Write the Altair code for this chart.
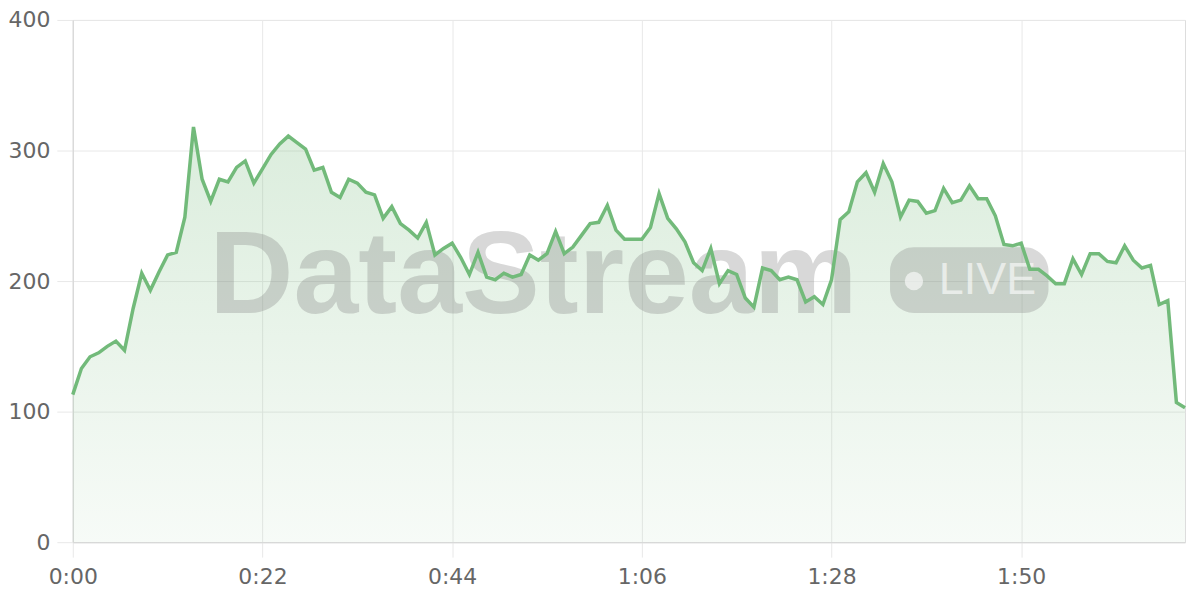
import altair as alt
import pandas as pd

# seconds since start
seconds = list(range(130))
values = [
    113, 133, 142, 145, 150, 154, 147, 179, 206, 193,
    207, 220, 222, 249, 318, 278, 261, 278, 276, 287,
    292, 275, 286, 297, 305, 311, 306, 301, 285, 287,
    268, 264, 278, 275, 268, 266, 248, 257, 244, 239,
    233, 245, 220, 225, 229, 218, 205, 222, 203, 201,
    206, 203, 205, 220, 216, 221, 238, 221, 226, 235,
    244, 245, 258, 239, 232, 232, 232, 241, 267, 248,
    240, 230, 214, 208, 225, 198, 208, 205, 187, 180,
    210, 208, 201, 203, 201, 184, 188, 182, 201, 247,
    253, 276, 283, 268, 290, 276, 249, 262, 261, 252,
    254, 271, 260, 262, 273, 263, 263, 250, 228, 227,
    229, 209, 209, 204, 198, 198, 217, 205, 221, 221,
    215, 214, 227, 216, 210, 212, 182, 185, 107, 103,
]
tick_seconds = [0, 22, 44, 66, 88, 110]
y_ticks = [0, 100, 200, 300, 400]
watermark_text = "DataStream"
badge_text = "LIVE"

df = pd.DataFrame({"t": seconds, "v": values})

FONT = "DejaVu Sans"
x_scale = alt.Scale(domain=[0, 129], nice=False, zero=False, padding=0)
y_scale = alt.Scale(domain=[0, 400], nice=False)

x_enc = alt.X(
    "t:Q",
    scale=x_scale,
    axis=alt.Axis(
        values=tick_seconds,
        title=None,
        labelExpr="floor(datum.value/60) + ':' + (datum.value % 60 < 10 ? '0' : '') + (datum.value % 60)",
        tickSize=15,
        labelPadding=9,
        labelFont=FONT,
        labelFontSize=22,
        labelColor="#666666",
        gridColor="#e8e8e8",
        tickColor="#e8e8e8",
        domainColor="#d6d6d6",
        labelFlush=False,
    ),
)
y_enc = alt.Y(
    "v:Q",
    scale=y_scale,
    axis=alt.Axis(
        values=y_ticks,
        title=None,
        tickSize=16,
        labelPadding=7,
        labelFont=FONT,
        labelFontSize=22,
        labelColor="#666666",
        gridColor="#e8e8e8",
        tickColor="#e8e8e8",
        domainColor="#d6d6d6",
    ),
)

base = alt.Chart(df)

area = base.mark_area(
    color=alt.Gradient(
        gradient="linear",
        stops=[
            alt.GradientStop(color="rgba(116,185,122,0.06)", offset=0),
            alt.GradientStop(color="rgba(116,185,122,0.26)", offset=1),
        ],
        x1=1, x2=1, y1=1, y2=0,
    ),
    interpolate="linear",
).encode(x=x_enc, y=y_enc)

wm = alt.Chart(pd.DataFrame({"s": [watermark_text]})).mark_text(
    font="Liberation Sans",
    fontWeight="bold",
    fontSize=117,
    align="left",
    baseline="alphabetic",
    color="#808080",
    opacity=0.3,
).encode(text="s:N", x=alt.value(137), y=alt.value(294))

pill = alt.Chart(pd.DataFrame({"s": [badge_text]})).mark_rect(
    color="#808080",
    opacity=0.3,
    cornerRadius=24,
).encode(x=alt.value(820), x2=alt.value(979), y=alt.value(228), y2=alt.value(294))

dot = alt.Chart(pd.DataFrame({"s": [badge_text]})).mark_point(
    shape="circle", filled=True, size=340, color="#ffffff", opacity=0.6
).encode(x=alt.value(844), y=alt.value(262))

live = alt.Chart(pd.DataFrame({"s": [badge_text]})).mark_text(
    font="Liberation Sans",
    fontSize=45,
    align="left",
    baseline="middle",
    color="#ffffff",
    opacity=0.6,
).encode(text="s:N", x=alt.value(869), y=alt.value(261))

line = base.mark_line(color="#72ba7a", strokeWidth=3.5, interpolate="linear").encode(
    x=x_enc, y=y_enc
)

chart = (
    alt.layer(area, wm, pill, dot, live, line)
    .properties(width=1116, height=524, padding=0)
    .configure_view(stroke=None)
    .configure(background="#ffffff")
)

chart.save("out.html", embed_options={"renderer": "svg", "actions": False})
